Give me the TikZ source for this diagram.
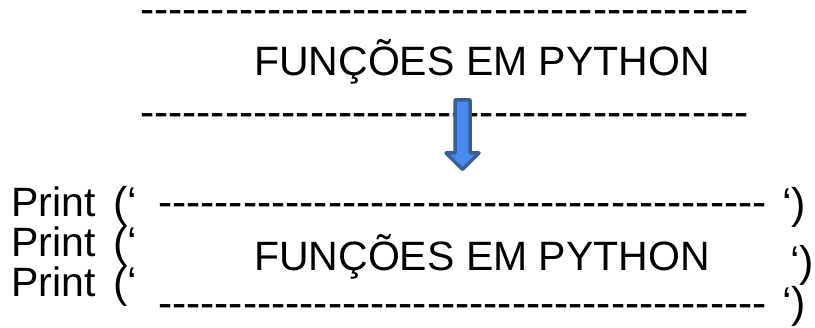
\documentclass[tikz,border=0pt]{standalone}
\usepackage{fontspec}
\newfontfamily\slidefont{Liberation Sans}
\definecolor{arrowfill}{RGB}{72,138,240}
\definecolor{arrowline}{RGB}{58,96,146}
\tikzset{
  txt/.style={inner sep=0pt, anchor=base west, font=\slidefont\fontsize{41}{41}\selectfont},
  paren/.style={txt, font=\slidefont\fontsize{43}{43}\selectfont},
  dashrow/.style={inner sep=0pt, anchor=base west, text height=14pt, text depth=0pt,
    font=\slidefont\fontsize{42.5}{42.5}\selectfont},
  blockarrow/.style={fill=arrowfill, draw=arrowline, line width=3.5pt, line join=round}
}
\newcommand{\hyphenrow}{\foreach \d in {1,...,43}{-\kern0pt}}
\begin{document}
\begin{tikzpicture}[x=1pt,y=-1pt]
        \clip (0,0) rectangle (815,328);
        % title with the two dash rows
        \node[dashrow] (dashtop) at (140,24) {\hyphenrow};
        \node[txt] (titletop) at (254,76) {FUNÇÕES EM PYTHON};
        \node[dashrow] (dashmid) at (140,127) {\hyphenrow};
        \coordinate (arrowtop) at (462.5,100);
        \draw[blockarrow] (arrowtop) ++(-7.5,0) -- ++(15,0) -- ++(0,53) -- ++(9,0)
            -- ++(-16.5,16.5) -- ++(-16.5,-16.5) -- ++(9,0) -- cycle;
        % the same with print
        \node[txt] (printa) at (11,217) {Print};
        \node[txt] (printb) at (11,257) {Print};
        \node[txt] (printc) at (11,297) {Print};
        \node[paren] (opena) at (113,218) {(‘};
        \node[paren] (openb) at (113,258) {(‘};
        \node[paren] (openc) at (113,298) {(‘};
        \node[dashrow] (dasha) at (158,217) {\hyphenrow};
        \node[txt] (titlebot) at (254,271) {FUNÇÕES EM PYTHON};
        \node[dashrow] (dashc) at (158,318) {\hyphenrow};
        \node[paren] (closea) at (782,219) {‘)};
        \node[paren] (closeb) at (790,277) {‘)};
        \node[paren] (closec) at (782,318) {‘)};
\end{tikzpicture}
\end{document}
